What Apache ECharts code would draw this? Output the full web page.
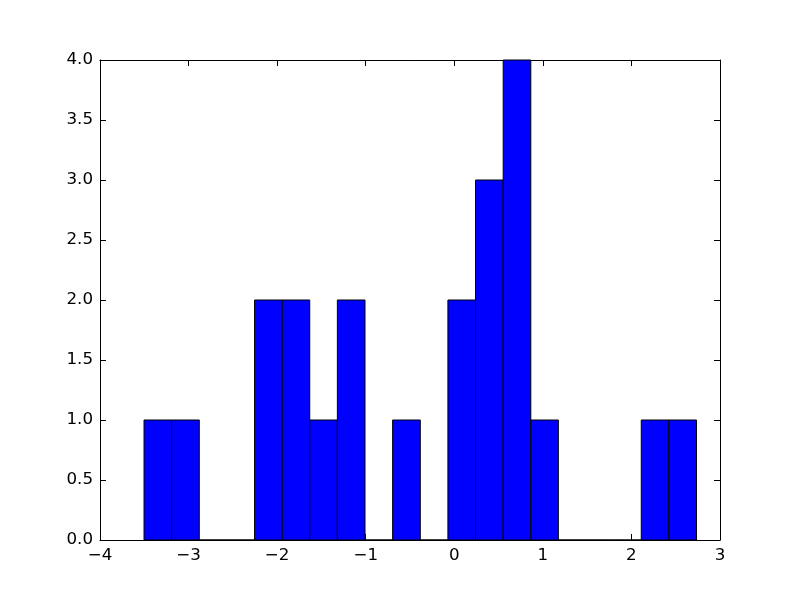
<!DOCTYPE html>
<html>
<head>
<meta charset="utf-8">
<script src="https://cdn.jsdelivr.net/npm/echarts@6/dist/echarts.min.js"></script>
<style>html,body{margin:0;padding:0;background:#fff}#c{width:800px;height:600px}</style>
</head>
<body>
<div id="c"></div>
<script>
const binEdges = [-3.503, -3.191, -2.879, -2.567, -2.255, -1.943, -1.632, -1.320, -1.008, -0.696, -0.384, -0.072, 0.240, 0.552, 0.864, 1.175, 1.487, 1.799, 2.111, 2.423, 2.735];
const counts = [1, 1, 0, 0, 2, 2, 1, 2, 0, 1, 0, 2, 3, 4, 1, 0, 0, 0, 1, 1];
const xTicks = [-4, -3, -2, -1, 0, 1, 2, 3];
const yTicks = [0.0, 0.5, 1.0, 1.5, 2.0, 2.5, 3.0, 3.5, 4.0];

const data = counts.map((c, i) => [binEdges[i], binEdges[i + 1], c]);
const FONT = 'DejaVu Sans';
const FS = 16.7;
const fmtX = v => String(v).replace('-', '\u2212');
const fmtY = v => Number(v).toFixed(1);

const chart = echarts.init(document.getElementById('c'), null, {renderer: 'canvas'});
const baseX = {
  type: 'value', min: xTicks[0], max: xTicks[xTicks.length - 1], interval: 1,
  splitLine: {show: false},
  axisLine: {show: true, onZero: false, lineStyle: {color: '#000', width: 1}},
  axisTick: {show: true, inside: true, length: 6, lineStyle: {color: '#000'}},
};
const baseY = {
  type: 'value', min: yTicks[0], max: yTicks[yTicks.length - 1], interval: 0.5,
  splitLine: {show: false},
  axisLine: {show: true, onZero: false, lineStyle: {color: '#000', width: 1}},
  axisTick: {show: true, inside: true, length: 6, lineStyle: {color: '#000'}},
};
chart.setOption({
  animation: false,
  backgroundColor: '#fff',
  grid: {left: 100, right: 80, top: 60, bottom: 60, containLabel: false},
  xAxis: [
    Object.assign({}, baseX, {position: 'bottom',
      axisLabel: {show: true, formatter: fmtX, color: '#000', fontFamily: FONT, fontSize: FS, margin: 7}}),
    Object.assign({}, baseX, {position: 'top', axisLabel: {show: false}})
  ],
  yAxis: [
    Object.assign({}, baseY, {position: 'left',
      axisLabel: {show: true, formatter: fmtY, color: '#000', fontFamily: FONT, fontSize: FS, margin: 7}}),
    Object.assign({}, baseY, {position: 'right', axisLabel: {show: false}})
  ],
  series: [{
    type: 'custom',
    xAxisIndex: 0, yAxisIndex: 0,
    data: data,
    encode: {x: [0, 1], y: 2},
    renderItem: function (params, api) {
      const p0 = api.coord([api.value(0), 0]);
      const p1 = api.coord([api.value(1), api.value(2)]);
      return {
        type: 'rect',
        shape: {x: p0[0], y: p1[1], width: p1[0] - p0[0], height: p0[1] - p1[1]},
        style: {fill: '#0000ff', stroke: '#000', lineWidth: 1}
      };
    }
  }]
});
</script>
</body>
</html>
